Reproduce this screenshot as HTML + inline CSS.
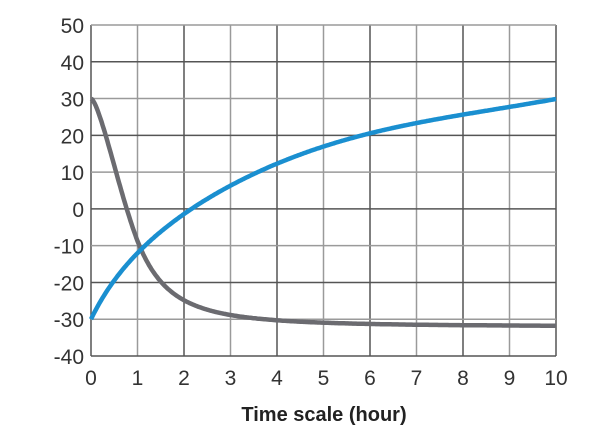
<!DOCTYPE html>
<html><head><style>body{margin:0;background:#fff}svg{display:block}</style></head><body>
<svg id="s" width="616" height="440" xmlns="http://www.w3.org/2000/svg" font-family="Liberation Sans, sans-serif">
<g id="grid" stroke="#6a6a6a" stroke-width="1.5"></g>
<g id="lab" fill="#333" font-size="21"></g>
<path id="gray" fill="none" stroke="#6b6b70" stroke-width="4.5"/>
<path id="blue" fill="none" stroke="#1a8fd0" stroke-width="4.5"/>
<text x="324" y="421" text-anchor="middle" font-size="20" font-weight="bold" fill="#222">Time scale (hour)</text>
</svg>
<script>
var X=function(t){return 91+t*46.5},Y=function(v){return 356-(v+40)*331/90};
var g=document.getElementById('grid'),l=document.getElementById('lab'),h='';
for(var i=0;i<=10;i++){h+='<line x1="'+X(i)+'" y1="25" x2="'+X(i)+'" y2="356" stroke="'+(i%2?'#9a9a9a':'#555')+'"/>';}
for(var v=-40;v<=50;v+=10){h+='<line x1="91" y1="'+Y(v)+'" x2="556" y2="'+Y(v)+'" stroke="'+(v%20?'#9a9a9a':'#555')+'"/>';}
g.innerHTML=h;h='';
for(var v=-40;v<=50;v+=10){h+='<text x="84" y="'+(Y(v)+8)+'" text-anchor="end">'+(v<0?'-'+(-v):v)+'</text>';}
for(var i=0;i<=10;i++){h+='<text x="'+X(i)+'" y="385" text-anchor="middle">'+i+'</text>';}
l.innerHTML=h;
var b='',q='';
for(var k=0;k<=400;k++){var t=k/40;
var s=Math.sin(Math.PI*t/10);
var yb=-30+24.2*Math.log(1+t/0.92)+1.9*s*s;
var n=1.6+0.6*Math.min(t,1);
var yg=-32+62/(1+Math.pow(t/0.793,n));
b+=(k?'L':'M')+X(t).toFixed(1)+' '+Y(yb).toFixed(1);
q+=(k?'L':'M')+X(t).toFixed(1)+' '+Y(yg).toFixed(1);}
document.getElementById('blue').setAttribute('d',b);
document.getElementById('gray').setAttribute('d',q);
</script>
</body></html>
